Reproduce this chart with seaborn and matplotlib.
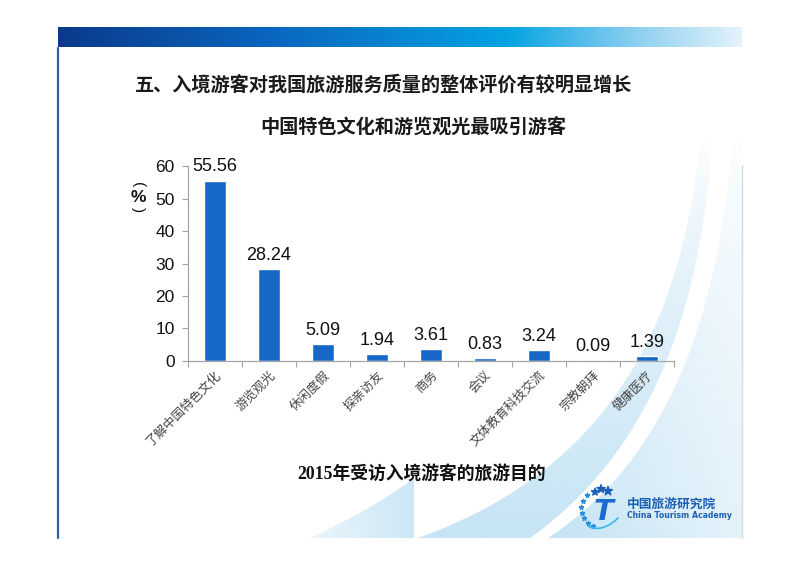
import matplotlib
matplotlib.use("Agg")
import matplotlib.pyplot as plt
import numpy as np
import seaborn as sns
from matplotlib.colors import LinearSegmentedColormap, to_rgb
from matplotlib.patches import Polygon
from matplotlib.transforms import ScaledTranslation

# Data
categories = ["了解中国特色文化", "游览观光", "休闲度假", "探亲访友", "商务",
              "会议", "文体教育科技交流", "宗教朝拜", "健康医疗"]
shares = [55.56, 28.24, 5.09, 1.94, 3.61, 0.83, 3.24, 0.09, 1.39]
value_labels = ["55.56", "28.24", "5.09", "1.94", "3.61", "0.83", "3.24", "0.09", "1.39"]
y_ticks = [0, 10, 20, 30, 40, 50, 60]

slide_title = "五、入境游客对我国旅游服务质量的整体评价有较明显增长"
chart_title = "中国特色文化和游览观光最吸引游客"
caption = "2015年受访入境游客的旅游目的"

bar_color = "#1767c6"
light_blue = "#c4e3f5"

sns.set_style("white")
plt.rcParams["font.family"] = ["Noto Sans CJK SC", "DejaVu Sans"]

fig = plt.figure(figsize=(8, 5.65), dpi=100)

# background layer in pixel coordinates (slide decoration)
bg = fig.add_axes([0, 0, 1, 1], zorder=0)


def bezier(p0, p1, p2, p3, n=60):
    t = np.linspace(0, 1, n)[:, None]
    p0, p1, p2, p3 = map(np.array, (p0, p1, p2, p3))
    return (1 - t) ** 3 * p0 + 3 * (1 - t) ** 2 * t * p1 + 3 * (1 - t) * t ** 2 * p2 + t ** 3 * p3


def faded_region(verts, alpha_fn, color=light_blue):
    verts = np.asarray(verts)
    x0, y0 = verts.min(axis=0)
    x1, y1 = verts.max(axis=0)
    xs = np.linspace(x0, x1, 200)
    ys = np.linspace(y1, y0, 200)
    X, Y = np.meshgrid(xs, ys)
    img = np.zeros((200, 200, 4))
    img[..., :3] = to_rgb(color)
    img[..., 3] = np.clip(alpha_fn(X, Y), 0, 1)
    im = bg.imshow(img, extent=(x0, x1, y1, y0), origin="lower", aspect="auto",
                   interpolation="bilinear", zorder=1)
    poly = Polygon(verts, closed=True, transform=bg.transData, facecolor="none", edgecolor="none")
    bg.add_patch(poly)
    im.set_clip_path(poly)


# left small wedge
wedge = np.vstack([bezier((310, 538), (345, 522), (385, 500), (414, 478)), [(414, 538)]])
faded_region(wedge, lambda X, Y: 0.35 + 0.5 * (X - 310) / 104)

# middle band
c1 = bezier((418, 538), (580, 480), (680, 360), (700, 140))
c2 = bezier((530, 538), (640, 460), (700, 330), (712, 140))
band = np.vstack([c1, c2[::-1]])
faded_region(band, lambda X, Y: 0.95 * ((Y - 140) / 398) ** 0.7)

# right region
c3 = bezier((548, 538), (660, 465), (718, 330), (732, 140))
right = np.vstack([c3, [(742, 140), (742, 538)]])
faded_region(right, lambda X, Y: ((Y - 140) / 398) ** 0.6 * (1 - 0.55 * (X - 548) / 194))

# top gradient band
band_cmap = LinearSegmentedColormap.from_list(
    "band", [(0, "#0a3a8c"), (0.3, "#0a64bd"), (0.66, "#05a3e2"), (0.85, "#8fd0f0"), (1, "#e3f2fb")])
bg.imshow(np.linspace(0, 1, 400)[None, :], cmap=band_cmap, extent=(58, 742, 47, 27),
          aspect="auto", zorder=2)

# slide borders
bg.plot([58, 58], [48, 538], color="#2a5ea8", lw=1.6, zorder=3)
bg.plot([742, 742], [165, 538], color="#d3dbe3", lw=1.0, zorder=3)

# logo
bg.text(604, 512, "T", fontsize=21, fontweight="bold", style="italic", color="#1c6ccf",
        ha="center", va="center", family="DejaVu Sans", zorder=4)
bg.scatter([595, 601, 608], [492, 489, 491], marker="*", s=[30, 40, 45], color="#1b5fb8", zorder=4)
bg.scatter([587, 583, 581, 582, 584, 588, 593], [495, 501, 507, 513, 518, 523, 526],
           marker="*", s=10, color="#2a8ee0", zorder=4)
arc = bezier((588, 526), (596, 531), (608, 528), (618, 518))
bg.plot(arc[:, 0], arc[:, 1], color="#39b5e8", lw=1.2, zorder=4)
bg.text(627, 504, "中国旅游研究院", fontsize=9.2, fontweight="bold", color="#1b5fb4",
        ha="left", va="center", zorder=4)
bg.text(627, 516, "China Tourism Academy", fontsize=5.6, fontweight="bold", color="#1b5fb4",
        ha="left", va="center", family="DejaVu Sans", zorder=4)

bg.set_xlim(0, 800)
bg.set_ylim(565, 0)
bg.axis("off")

# titles
fig.text(135 / 800, 1 - 85 / 565, slide_title, fontsize=13.8, fontweight="bold",
         color="#1a1a1a", ha="left", va="center")
fig.text(413 / 800, 1 - 128 / 565, chart_title, fontsize=13.8, fontweight="bold",
         color="#1a1a1a", ha="center", va="center")
fig.text(422 / 800, 1 - 475 / 565, caption, fontsize=12.8, fontweight="bold",
         color="#111111", ha="center", va="center",
         family=["Liberation Serif", "Noto Sans CJK SC"])

# chart
ax = fig.add_axes([188 / 800, 1 - 360.7 / 565, (674 - 188) / 800, (360.7 - 166.3) / 565], zorder=2)
ax.patch.set_alpha(0)
sns.barplot(x=categories, y=shares, color=bar_color, width=0.39, saturation=1, ax=ax)

for i, (v, lab) in enumerate(zip(shares, value_labels)):
    ax.annotate(lab, (i, v), xytext=(0, 10), textcoords="offset points", ha="center",
                va="center", fontsize=13, color="#111111", family="Liberation Sans")

ax.set_ylim(0, 60)
ax.set_xlim(-0.5, len(categories) - 0.5)
ax.set_yticks(y_ticks)
ax.set_yticklabels([str(t) for t in y_ticks], family="Liberation Sans", fontsize=12.5, color="#111111")
ax.tick_params(axis="y", direction="out", length=4.5, width=0.8, color="#a0a0a0", pad=5, left=True)

ax.set_xticks(range(len(categories)))
ax.set_xticks(np.arange(-0.5, len(categories)), minor=True)
ax.tick_params(axis="x", which="major", length=0, pad=9)
ax.tick_params(axis="x", which="minor", direction="out", length=4, width=0.8, color="#a0a0a0", bottom=True)
ax.set_xticklabels(categories, rotation=45, ha="right", va="center", rotation_mode="anchor",
                   fontsize=9, color="#444444")
for lab in ax.get_xticklabels():
    lab.set_transform(lab.get_transform() + ScaledTranslation(3 / 72, 0, fig.dpi_scale_trans))

for side in ["top", "right"]:
    ax.spines[side].set_visible(False)
for side in ["left", "bottom"]:
    ax.spines[side].set_color("#a6a6a6")
    ax.spines[side].set_linewidth(0.9)
ax.set_xlabel("")
ax.set_ylabel("")

# vertical unit label: (%) written top to bottom
fig.text(138 / 800, 1 - 185 / 565, "(", fontsize=11, rotation=-90, ha="center", va="center",
         color="#111111", family="Liberation Sans")
fig.text(138 / 800, 1 - 197 / 565, "%", fontsize=12.5, ha="center", va="center", color="#111111",
         family="Liberation Sans", fontweight="bold")
fig.text(138 / 800, 1 - 210 / 565, ")", fontsize=11, rotation=-90, ha="center", va="center",
         color="#111111", family="Liberation Sans")

fig.savefig("out.png", dpi=100)
